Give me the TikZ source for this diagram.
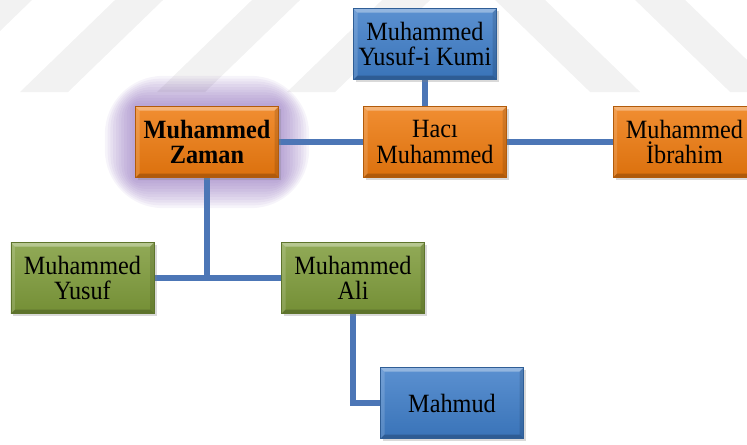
\documentclass[tikz,border=0pt]{standalone}
\usepackage{fontspec}
\setmainfont{Liberation Serif}[FakeStretch=0.92]
\usetikzlibrary{positioning,shadows,backgrounds}
\definecolor{famorange}{RGB}{238,122,14}
\definecolor{famblue}{RGB}{62,125,200}
\definecolor{famgreen}{RGB}{126,155,58}
\definecolor{linkblue}{RGB}{76,118,182}
\definecolor{glowpurple}{RGB}{130,95,180}

\begin{document}
\begin{tikzpicture}[node distance=2.5cm, on grid]
\tikzstyle{every node}=[font=\fontsize{15}{14.5}\selectfont]
\tikzstyle{link}=[draw=linkblue, line width=2.9pt]
\tikzset{famnode/.style={rectangle, draw=#1!75!black, top color=#1!85!white, bottom color=#1!92!black,
  minimum width=2.86cm, minimum height=1.42cm, inner sep=0pt, align=center,
  drop shadow={shadow xshift=.05cm, shadow yshift=-.05cm, opacity=.3},
  path picture={
   \coordinate (bnw) at (path picture bounding box.north west);
   \coordinate (bne) at (path picture bounding box.north east);
   \coordinate (bsw) at (path picture bounding box.south west);
   \coordinate (bse) at (path picture bounding box.south east);
   \fill[white,opacity=.35] (bnw) -- (bne) -- ([shift={(-.08,-.08)}]bne) -- ([shift={(.08,-.08)}]bnw) -- cycle;
   \fill[white,opacity=.15] (bnw) -- (bsw) -- ([shift={(.08,.08)}]bsw) -- ([shift={(.08,-.08)}]bnw) -- cycle;
   \fill[black,opacity=.12] (bne) -- (bse) -- ([shift={(-.08,.08)}]bse) -- ([shift={(-.08,-.08)}]bne) -- cycle;
   \fill[black,opacity=.2] (bsw) -- (bse) -- ([shift={(-.08,.08)}]bse) -- ([shift={(.08,.08)}]bsw) -- cycle;
  }}}
\useasboundingbox (0,0) rectangle (14.94,-8.88);
   \node[famnode=famorange, font=\fontsize{15}{14.5}\selectfont\bfseries](zaman) at (4.14,-2.84){Muhammed\\Zaman};
   \node[famnode=famorange](haci)[right=4.56cm of zaman]{Hacı\\Muhammed};
   \node[famnode=famblue](kumi)[above left=1.96cm and 0.2cm of haci]{Muhammed\\Yusuf-i Kumi};
\node[famnode=famorange](ibrahim)[right=4.99cm of haci]{Muhammed\\İbrahim};
\node[famnode=famgreen](yusuf)[below left=2.72cm and 2.49cm of zaman]{Muhammed\\Yusuf};
\node[famnode=famgreen](ali)[below right=2.72cm and 2.92cm of zaman]{Muhammed\\Ali};
\node[famnode=famblue](mahmud)[below right=2.5cm and 1.98cm of ali]{Mahmud};
\begin{scope}[on background layer]
\begin{scope}[x=0.02cm, y=-0.02cm, black!5]
\foreach \a in {-16,115,252,382}
  \fill (\a,0) -- (\a+48,0) -- (\a-47,92) -- (\a-95,92) -- cycle;
\foreach \b in {495,635}
  \fill (\b,0) -- (\b+50,0) -- (\b+145,92) -- (\b+95,92) -- cycle;
\end{scope}
\foreach \g [evaluate=\g as \r using \g*3, evaluate=\g as \d using \g*0.055] in {1,...,11}
  \fill[glowpurple, opacity=.07, rounded corners=\r pt] ([shift={(-\d,\d)}]zaman.north west) rectangle ([shift={(\d,-\d)}]zaman.south east);
\path[link] (kumi) -- (kumi |- haci.north);
\path[link] (zaman) -- (haci);
\path[link] (haci) -- (ibrahim);
\path[link] (zaman) -- (zaman |- yusuf);
\path[link] (yusuf) -- (ali);
\path[link] (ali) |- (mahmud);
\end{scope}
\end{tikzpicture}
\end{document}
